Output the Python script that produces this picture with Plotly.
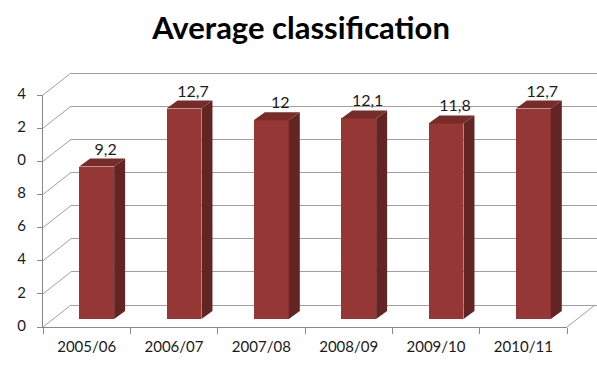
import plotly.graph_objects as go

# ---- data ----
seasons = ["2005/06", "2006/07", "2007/08", "2008/09", "2009/10", "2010/11"]
avg_class = [9.2, 12.7, 12, 12.1, 11.8, 12.7]
y_ticks = [0, 2, 4, 6, 8, 10, 12, 14]
title_text = "Average classification"

# ---- geometry of the pseudo-3D box (pixels) ----
W, H = 597, 365
FX0, FX1 = 43, 567          # front plane, left/right
FY0, FY1 = 327, 95          # front plane, value 0 / value max
YMAX = 14
WALL = (28, -22)            # offset of the back wall
BAR_SHIFT = (10, -8)        # columns sit part-way into the floor
BAR_DEPTH = (11, -8)        # visible depth of each column
n = len(seasons)
ux = (FX1 - FX0) / n        # px per category
uy = (FY0 - FY1) / YMAX     # px per value unit
PAD = 2                     # keeps edge lines from being clipped

FRONT = "#953735"
SIDE = "#632523"
TOP = "#772c2a"
GRID = "#a0a0a0"
AXIS = "#888888"
TXT = "#1a1a1a"
FONT = "Lato"


def xdom(x0, x1):
    return [x0 / W, x1 / W]


def ydom(py_bottom, py_top):
    return [1 - py_bottom / H, 1 - py_top / H]


def fmt(v):
    return ("%g" % v).replace(".", ",")


fig = go.Figure()

# back wall: horizontal gridlines (subplot x/y)
fig.add_trace(go.Scatter(x=[0], y=[None], mode="markers", xaxis="x", yaxis="y",
                         hoverinfo="skip", showlegend=False))

# left side wall: diagonals joining the value ticks to the back wall (x2/y2)
wy = -WALL[1] / uy
sxs, sys_ = [], []
for t in y_ticks:
    sxs += [0, 1, None]
    sys_ += [t, t + wy, None]
fig.add_trace(go.Scatter(x=sxs, y=sys_, mode="lines", line=dict(color=GRID, width=1),
                         xaxis="x2", yaxis="y2", hoverinfo="skip", showlegend=False))

# right edge of the floor (x3/y3)
fig.add_trace(go.Scatter(x=[0, 1], y=[0, 1], mode="lines", line=dict(color=GRID, width=1),
                         xaxis="x3", yaxis="y3", hoverinfo="skip", showlegend=False))

# columns: front faces as bars, sides and tops as filled polygons (x4/y4)
bw = 0.4
fig.add_trace(go.Bar(x=list(range(n)), y=avg_class, width=bw, marker_color=FRONT,
                     marker_line_width=0, xaxis="x4", yaxis="y4", showlegend=False))
bdx, bdy = BAR_DEPTH[0] / ux, -BAR_DEPTH[1] / uy
sx, sy, tx, ty = [], [], [], []
for i, v in enumerate(avg_class):
    r = i + bw / 2
    l = i - bw / 2
    sx += [r, r, r + bdx, r + bdx, r, None]
    sy += [0, v, v + bdy, bdy, 0, None]
    tx += [l, r, r + bdx, l + bdx, l, None]
    ty += [v, v, v + bdy, v + bdy, v, None]
fig.add_trace(go.Scatter(x=sx, y=sy, mode="lines", fill="toself", fillcolor=SIDE,
                         line=dict(width=0, color=SIDE), xaxis="x4", yaxis="y4",
                         cliponaxis=False, hoverinfo="skip", showlegend=False))
fig.add_trace(go.Scatter(x=tx, y=ty, mode="lines", fill="toself", fillcolor=TOP,
                         line=dict(width=0, color=TOP), xaxis="x4", yaxis="y4",
                         cliponaxis=False, hoverinfo="skip", showlegend=False))

# value labels above each column
fig.add_trace(go.Scatter(x=[i + 9 / ux for i in range(n)], y=[v + bdy for v in avg_class],
                         mode="text", text=[fmt(v) for v in avg_class],
                         textposition="top center",
                         textfont=dict(family=FONT, size=16, color=TXT),
                         xaxis="x4", yaxis="y4", cliponaxis=False,
                         hoverinfo="skip", showlegend=False))

# front axes carrying the category labels and value ticks (x5/y5)
fig.add_trace(go.Scatter(x=seasons, y=[0] * n, mode="markers", marker=dict(opacity=0),
                         xaxis="x5", yaxis="y5", hoverinfo="skip", showlegend=False))

# value tick labels, clipped at the left edge of their strip (x6/y6)
LAB_X0, LAB_X1 = 16.5, 40
pad_b, pad_t = 10, 12
fig.add_trace(go.Scatter(x=[26] * len(y_ticks), y=y_ticks, mode="text",
                         text=[str(t) for t in y_ticks], textposition="middle left",
                         textfont=dict(family=FONT, size=15, color=TXT),
                         xaxis="x6", yaxis="y6", cliponaxis=True,
                         hoverinfo="skip", showlegend=False))

hidden = dict(visible=False, fixedrange=True)
fig.update_layout(
    width=W, height=H,
    margin=dict(l=0, r=0, t=0, b=0, autoexpand=False),
    paper_bgcolor="white", plot_bgcolor="rgba(0,0,0,0)",
    bargap=0,
    title=dict(text=title_text, x=301 / W, y=1 - 28 / H, xanchor="center",
               yanchor="middle", xref="paper", yref="paper",
               font=dict(family=FONT, size=31, color="black", weight="bold")),
    # back wall
    xaxis=dict(domain=xdom(FX0 + WALL[0], W), range=[0, 1], anchor="y", **hidden),
    yaxis=dict(domain=ydom(FY0 + WALL[1] + PAD, FY1 + WALL[1] - PAD),
               range=[-PAD / uy, YMAX + PAD / uy],
               tickvals=y_ticks, showgrid=True, gridcolor=GRID, gridwidth=1,
               showticklabels=False, zeroline=False, showline=False, ticks="",
               fixedrange=True, anchor="x"),
    # left side wall
    xaxis2=dict(domain=xdom(FX0 - PAD, FX0 + WALL[0] + PAD),
                range=[-PAD / WALL[0], 1 + PAD / WALL[0]], anchor="y2", **hidden),
    yaxis2=dict(domain=ydom(FY0 + PAD, FY1 + WALL[1] - PAD),
                range=[-PAD / uy, YMAX + wy + PAD / uy], anchor="x2", **hidden),
    # floor edge on the right
    xaxis3=dict(domain=xdom(FX1 - PAD, FX1 + WALL[0] + PAD),
                range=[-PAD / WALL[0], 1 + PAD / WALL[0]], anchor="y3", **hidden),
    yaxis3=dict(domain=ydom(FY0 + PAD, FY0 + WALL[1] - PAD),
                range=[PAD / WALL[1], 1 - PAD / WALL[1]], anchor="x3", **hidden),
    # columns
    xaxis4=dict(domain=xdom(FX0 + BAR_SHIFT[0], FX1 + BAR_SHIFT[0]), range=[-0.5, n - 0.5],
                anchor="y4", **hidden),
    yaxis4=dict(domain=ydom(FY0 + BAR_SHIFT[1], FY1 + BAR_SHIFT[1]), range=[0, YMAX],
                anchor="x4", **hidden),
    # front axes
    xaxis5=dict(domain=xdom(FX0, FX1), type="category", categoryarray=seasons,
                range=[-0.5, n - 0.5], tickson="boundaries", ticks="outside",
                ticklen=6, tickcolor=AXIS, showline=True, linecolor=AXIS, linewidth=1,
                showgrid=False, zeroline=False, ticklabelstandoff=6,
                tickfont=dict(family=FONT, size=15, color=TXT),
                anchor="y5", fixedrange=True),
    yaxis5=dict(domain=ydom(FY0, FY1), range=[0, YMAX], tickvals=y_ticks,
                ticks="outside", ticklen=5, tickcolor=AXIS, showline=True,
                linecolor=AXIS, linewidth=1, showgrid=False, zeroline=False,
                showticklabels=False, anchor="x5", fixedrange=True),
    # strip for the value tick labels
    xaxis6=dict(domain=xdom(LAB_X0, LAB_X1), range=[LAB_X0, LAB_X1], anchor="y6", **hidden),
    yaxis6=dict(domain=ydom(FY0 + pad_b, FY1 - pad_t),
                range=[-pad_b / uy, YMAX + pad_t / uy], anchor="x6", **hidden),
)

fig.write_html("out.html")
